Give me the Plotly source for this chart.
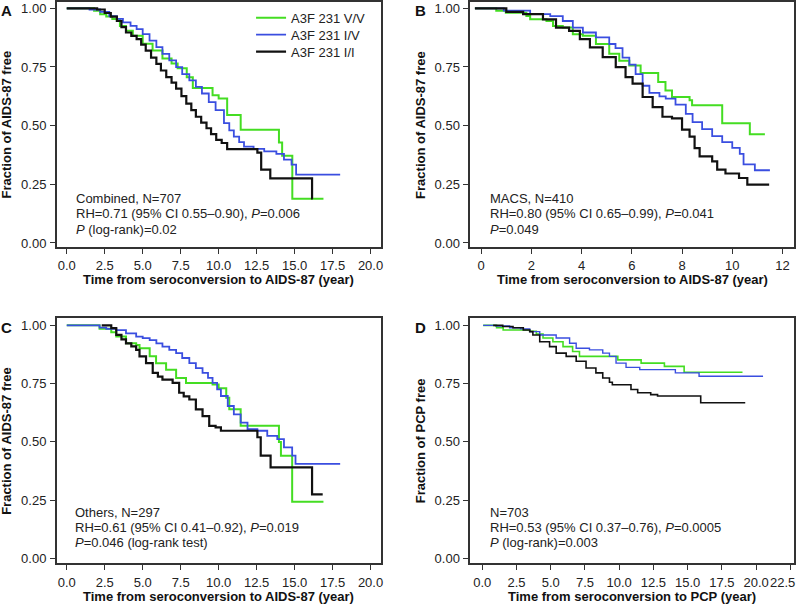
import plotly.graph_objects as go

# ---------------- data ----------------
series_names = ["A3F 231 V/V", "A3F 231 I/V", "A3F 231 I/I"]

# Panel A : Combined
a_vv_t = [0, 1.8, 2.2, 2.6, 3.0, 3.5, 3.9, 4.35, 5.0, 5.65, 6.3, 6.9, 7.3, 7.9, 8.3, 9.6, 10.0, 10.56, 11.45, 13.97, 14.18, 14.85, 16.9]
a_vv_s = [1.0, 0.99, 0.975, 0.965, 0.954, 0.925, 0.904, 0.883, 0.849, 0.82, 0.786, 0.765, 0.745, 0.706, 0.66, 0.63, 0.616, 0.545, 0.483, 0.428, 0.372, 0.189, 0.189]
a_iv_t = [0, 1.5, 2.2, 2.8, 3.3, 3.7, 4.2, 4.6, 5.0, 5.45, 5.9, 6.3, 6.75, 7.2, 7.6, 8.07, 8.5, 8.9, 9.35, 9.8, 10.35, 10.7, 11.0, 11.35, 11.67, 12.3, 13.0, 13.8, 14.3, 14.8, 15.1, 18.0]
a_iv_s = [1.0, 0.995, 0.985, 0.967, 0.955, 0.94, 0.925, 0.911, 0.89, 0.862, 0.835, 0.806, 0.778, 0.749, 0.72, 0.693, 0.665, 0.637, 0.6, 0.566, 0.511, 0.48, 0.453, 0.43, 0.411, 0.401, 0.39, 0.38, 0.355, 0.334, 0.291, 0.291]
a_ii_t = [0, 2.0, 2.5, 2.9, 3.3, 3.6, 3.9, 4.25, 4.6, 4.9, 5.2, 5.55, 5.9, 6.2, 6.55, 6.9, 7.2, 7.55, 7.87, 8.2, 8.5, 8.85, 9.2, 9.5, 9.84, 10.2, 10.56, 12.55, 12.8, 13.4, 16.15, 16.2]
a_ii_s = [1.0, 0.995, 0.98, 0.965, 0.946, 0.92, 0.897, 0.883, 0.869, 0.845, 0.82, 0.79, 0.763, 0.735, 0.707, 0.683, 0.658, 0.626, 0.594, 0.566, 0.538, 0.513, 0.489, 0.464, 0.439, 0.426, 0.40, 0.385, 0.313, 0.275, 0.19, 0.19]

# Panel B : MACS
b_vv_t = [-0.25, 0.6, 0.98, 1.8, 1.95, 2.6, 2.86, 3.25, 3.65, 4.05, 4.57, 5.1, 5.5, 5.9, 6.35, 7.05, 7.34, 7.6, 8.3, 8.4, 9.6, 10.7, 11.3]
b_vv_s = [1.0, 0.99, 0.981, 0.967, 0.953, 0.946, 0.925, 0.918, 0.89, 0.883, 0.848, 0.806, 0.777, 0.756, 0.724, 0.686, 0.65, 0.622, 0.608, 0.587, 0.51, 0.463, 0.463]
b_iv_t = [-0.25, 0.9, 1.95, 2.75, 3.25, 3.65, 4.05, 4.57, 5.1, 5.35, 5.63, 5.9, 6.15, 6.43, 6.7, 7.1, 7.35, 7.74, 8.15, 8.42, 8.8, 9.2, 9.6, 10.0, 10.3, 10.45, 10.9, 11.5]
b_iv_s = [1.0, 0.99, 0.975, 0.967, 0.946, 0.918, 0.897, 0.876, 0.848, 0.83, 0.79, 0.76, 0.72, 0.67, 0.64, 0.625, 0.615, 0.59, 0.55, 0.515, 0.485, 0.455, 0.43, 0.405, 0.38, 0.335, 0.31, 0.31]
b_ii_t = [-0.25, 1.0, 1.67, 2.46, 2.98, 3.5, 3.93, 4.33, 4.84, 5.36, 5.75, 6.03, 6.43, 6.83, 7.22, 7.6, 8.0, 8.3, 8.5, 8.7, 9.2, 9.4, 9.73, 10.27, 10.6, 11.47]
b_ii_s = [1.0, 0.985, 0.975, 0.953, 0.918, 0.904, 0.869, 0.834, 0.792, 0.749, 0.707, 0.679, 0.622, 0.579, 0.538, 0.531, 0.483, 0.453, 0.404, 0.369, 0.348, 0.313, 0.296, 0.277, 0.249, 0.249]

# Panel C : Others
c_vv_t = [0, 2.16, 2.93, 3.26, 3.9, 4.57, 4.79, 5.46, 5.88, 6.54, 7.2, 7.85, 9.6, 10.0, 10.5, 10.7, 11.45, 13.97, 14.1, 14.84, 16.9]
c_vv_s = [1.0, 0.985, 0.97, 0.952, 0.923, 0.916, 0.902, 0.867, 0.838, 0.81, 0.774, 0.753, 0.746, 0.73, 0.69, 0.64, 0.569, 0.50, 0.441, 0.243, 0.243]
c_iv_t = [0, 2.16, 2.6, 3.26, 3.9, 4.57, 5.0, 5.46, 5.9, 6.3, 6.75, 7.2, 7.6, 8.07, 8.5, 8.94, 9.3, 9.6, 9.9, 10.15, 10.6, 11.0, 11.45, 11.9, 12.55, 13.2, 13.86, 14.3, 14.84, 15.06, 18.0]
c_iv_s = [1.0, 0.99, 0.985, 0.98, 0.966, 0.952, 0.945, 0.937, 0.923, 0.909, 0.895, 0.881, 0.86, 0.838, 0.817, 0.796, 0.775, 0.753, 0.725, 0.697, 0.654, 0.618, 0.583, 0.555, 0.548, 0.526, 0.512, 0.477, 0.441, 0.406, 0.406]
c_ii_t = [2.3, 2.93, 3.26, 3.6, 3.9, 4.25, 4.57, 4.79, 5.22, 5.66, 6.0, 6.3, 6.97, 7.4, 7.7, 8.07, 8.5, 8.94, 9.38, 9.8, 10.15, 12.55, 12.77, 13.42, 16.15, 16.85]
c_ii_s = [1.0, 0.988, 0.959, 0.94, 0.923, 0.91, 0.895, 0.867, 0.838, 0.796, 0.78, 0.767, 0.753, 0.711, 0.695, 0.682, 0.64, 0.611, 0.569, 0.562, 0.548, 0.52, 0.441, 0.391, 0.275, 0.275]

# Panel D : PCP
d_vv_t = [0.07, 1.05, 1.53, 3.47, 3.95, 4.44, 5.16, 5.9, 6.6, 7.1, 9.9, 11.6, 13.3, 14.74, 19.0]
d_vv_s = [1.0, 0.99, 0.98, 0.975, 0.963, 0.946, 0.93, 0.909, 0.888, 0.867, 0.852, 0.838, 0.824, 0.799, 0.799]
d_iv_t = [0.07, 1.0, 2.0, 2.8, 3.47, 4.2, 5.4, 6.38, 6.86, 7.83, 8.8, 9.29, 9.77, 10.5, 11.5, 14.1, 15.83, 20.5]
d_iv_s = [1.0, 0.997, 0.99, 0.985, 0.973, 0.959, 0.946, 0.923, 0.902, 0.895, 0.881, 0.867, 0.838, 0.82, 0.81, 0.796, 0.782, 0.782]
d_ii_t = [0.8, 1.5, 2.25, 3.0, 3.47, 3.7, 4.2, 4.92, 5.4, 6.13, 6.86, 7.58, 8.3, 8.8, 9.29, 9.5, 10.86, 11.35, 12.3, 12.8, 15.95, 19.2]
d_ii_s = [1.0, 0.995, 0.99, 0.98, 0.973, 0.959, 0.93, 0.909, 0.881, 0.867, 0.846, 0.817, 0.796, 0.774, 0.756, 0.745, 0.725, 0.711, 0.703, 0.697, 0.668, 0.668]

y_ticks = [0.0, 0.25, 0.5, 0.75, 1.0]
x_ticks_ac = [0, 2.5, 5, 7.5, 10, 12.5, 15, 17.5, 20]
x_ticks_b = [0, 2, 4, 6, 8, 10, 12]
x_ticks_d = [0, 2.5, 5, 7.5, 10, 12.5, 15, 17.5, 20, 22.5]

text_a = ["Combined, N=707", "RH=0.71 (95% CI 0.55\u20130.90), <i>P</i>=0.006", "<i>P</i> (log-rank)=0.02"]
text_b = ["MACS, N=410", "RH=0.80 (95% CI 0.65\u20130.99), <i>P</i>=0.041", "<i>P</i>=0.049"]
text_c = ["Others, N=297", "RH=0.61 (95% CI 0.41\u20130.92), <i>P</i>=0.019", "<i>P</i>=0.046 (log-rank test)"]
text_d = ["N=703", "RH=0.53 (95% CI 0.37\u20130.76), <i>P</i>=0.0005", "<i>P</i> (log-rank)=0.003"]

# ---------------- styling / layout ----------------
W, H = 800, 610
FONT = "Liberation Sans, Arial, Helvetica, sans-serif"
COLORS = ["#44dd22", "#3a4ee0", "#111111"]
FRAME = "#333333"

def px(x):
    return x / W

def py(y):
    return 1 - y / H

panels = [
    dict(lab="A", x0=57, x1=382, y0=1, y1=248, xr=[-0.656, 20.66], yr=[-0.017, 1.027],
         xt=x_ticks_ac, xfmt="%.1f", xtitle="Time from seroconversion to AIDS-87 (year)",
         ytitle="Fraction of AIDS-87 free", data=[(a_vv_t, a_vv_s), (a_iv_t, a_iv_s), (a_ii_t, a_ii_s)],
         text=text_a, tx=74, ty=[199, 214.5, 230], lw=[2, 1.8, 2.2]),
    dict(lab="B", x0=472, x1=797, y0=1, y1=248, xr=[-0.437, 12.46], yr=[-0.017, 1.027],
         xt=x_ticks_b, xfmt="%d", xtitle="Time from seroconversion to AIDS-87 (year)",
         ytitle="Fraction of AIDS-87 free", data=[(b_vv_t, b_vv_s), (b_iv_t, b_iv_s), (b_ii_t, b_ii_s)],
         text=text_b, tx=490, ty=[199, 214.5, 230], lw=[2, 1.8, 2.2]),
    dict(lab="C", x0=57, x1=382, y0=320, y1=567, xr=[-0.656, 20.66], yr=[-0.021, 1.030],
         xt=x_ticks_ac, xfmt="%.1f", xtitle="Time from seroconversion to AIDS-87 (year)",
         ytitle="Fraction of AIDS-87 free", data=[(c_vv_t, c_vv_s), (c_iv_t, c_iv_s), (c_ii_t, c_ii_s)],
         text=text_c, tx=73, ty=[516, 531, 546], lw=[2, 1.8, 2.2]),
    dict(lab="D", x0=472, x1=797, y0=320, y1=567, xr=[-0.873, 22.76], yr=[-0.021, 1.030],
         xt=x_ticks_d, xfmt="%.1f", xtitle="Time from seroconversion to PCP (year)",
         ytitle="Fraction of PCP free", data=[(d_vv_t, d_vv_s), (d_iv_t, d_iv_s), (d_ii_t, d_ii_s)],
         text=text_d, tx=490, ty=[516, 531, 546], lw=[1.6, 1.4, 1.6]),
]

legend_rows_y = [17, 34, 51]   # pixel centres of the three legend entries

fig = go.Figure()
annotations = []
layout = dict(
    width=W, height=H, margin=dict(l=0, r=0, t=0, b=0),
    paper_bgcolor="white", plot_bgcolor="white",
    font=dict(family=FONT, size=13, color="#222222"),
    showlegend=True,
)
legend_ids = ["legend", "legend2", "legend3"]
for j, lid in enumerate(legend_ids):
    layout[lid] = dict(x=px(252), y=py(legend_rows_y[j]), xanchor="left", yanchor="middle",
                       bgcolor="rgba(0,0,0,0)", borderwidth=0, itemwidth=30,
                       font=dict(family=FONT, size=13, color="#222222"))

for i, p in enumerate(panels):
    k = "" if i == 0 else str(i + 1)
    xa, ya = "x" + k, "y" + k
    for j, (t, s) in enumerate(p["data"]):
        fig.add_trace(go.Scatter(
            x=t, y=s, mode="lines", line=dict(color=COLORS[j], width=p["lw"][j], shape="hv"),
            name=series_names[j], showlegend=(i == 0), legend=legend_ids[j],
            xaxis=xa, yaxis=ya, hoverinfo="skip"))
    axis_common = dict(showgrid=False, zeroline=False, showline=True, mirror=True,
                       linecolor=FRAME, linewidth=1.5, ticks="outside", ticklen=5,
                       tickwidth=1.2, tickcolor=FRAME,
                       tickfont=dict(family=FONT, size=13, color="#222222"))
    labels = [p["xfmt"] % v for v in p["xt"]]
    edge_label = None
    if p["lab"] == "D":
        # last label sits on the page edge; drawn right-aligned to the edge below
        edge_label = labels[-1]
        labels[-1] = ""
    layout["xaxis" + k] = dict(axis_common, domain=[px(p["x0"]), px(p["x1"])], range=p["xr"],
                               tickvals=p["xt"], ticktext=labels,
                               anchor=ya, ticklabelstandoff=1)
    layout["yaxis" + k] = dict(axis_common, domain=[py(p["y1"]), py(p["y0"])], range=p["yr"],
                               tickvals=y_ticks, ticktext=["%.2f" % v for v in y_ticks],
                               anchor=xa, ticklabelstandoff=1)
    if edge_label:
        annotations.append(dict(text=edge_label, x=1.0, y=py(p["y1"] + 19), xref="paper",
                                yref="paper", showarrow=False, xanchor="right", yanchor="middle",
                                font=dict(family=FONT, size=13, color="#222222")))
    cx = (p["x0"] + p["x1"]) / 2
    cy = (p["y0"] + p["y1"]) / 2
    annotations.append(dict(text="<b>%s</b>" % p["xtitle"], x=px(cx), y=py(p["y1"] + 33),
                            xref="paper", yref="paper", showarrow=False, xanchor="center",
                            yanchor="middle", font=dict(family=FONT, size=13, color="#111111")))
    annotations.append(dict(text="<b>%s</b>" % p["ytitle"], x=px(p["x0"] - 50), y=py(cy),
                            xref="paper", yref="paper", showarrow=False, textangle=-90,
                            xanchor="center", yanchor="middle",
                            font=dict(family=FONT, size=13, color="#111111")))
    annotations.append(dict(text="<b>%s</b>" % p["lab"], x=px(p["x0"] - 50), y=py(p["y0"] + 9),
                            xref="paper", yref="paper", showarrow=False, xanchor="center",
                            yanchor="middle", font=dict(family=FONT, size=15, color="#111111")))
    for line, yy in zip(p["text"], p["ty"]):
        annotations.append(dict(text=line, x=px(p["tx"]), y=py(yy), xref="paper", yref="paper",
                                showarrow=False, xanchor="left", yanchor="middle",
                                font=dict(family=FONT, size=13, color="#222222")))

layout["annotations"] = annotations
fig.update_layout(**layout)
fig.write_html("out.html", config={"displayModeBar": False},
               post_script="document.body.style.margin='0';document.body.style.overflow='hidden';")
